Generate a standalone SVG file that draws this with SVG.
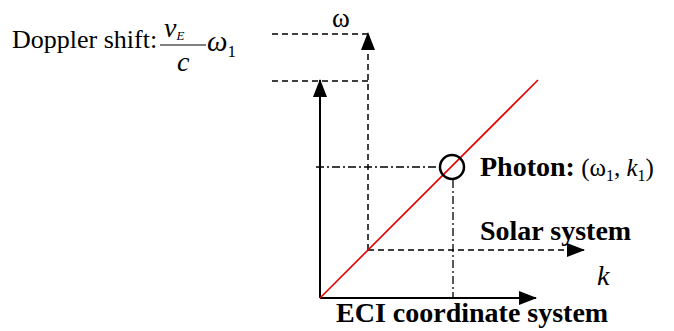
<svg xmlns="http://www.w3.org/2000/svg" width="674" height="331" viewBox="0 0 674 331">
<style>
text{font-family:"Liberation Serif","Times New Roman",serif;fill:#000}
.b{font-weight:bold;font-size:28px}
.ax{stroke:#000;stroke-width:2;fill:none}
.dash{stroke:#000;stroke-width:1.5;fill:none;stroke-dasharray:6 4}
.dd{stroke:#000;stroke-width:1.3;fill:none;stroke-dasharray:8 3 2 3}
</style>
<defs>
<marker id="ah" markerUnits="userSpaceOnUse" markerWidth="18" markerHeight="14" refX="17" refY="7" orient="auto">
<path d="M0,0 L18,7 L0,14 Z" fill="#000"/>
</marker>
</defs>
<g id="connectors">
<line class="ax" x1="320" y1="298" x2="320" y2="80" marker-end="url(#ah)"/>
<line class="ax" x1="320" y1="298" x2="536" y2="298" marker-end="url(#ah)"/>
<line class="dash" x1="368" y1="250" x2="368" y2="33" marker-end="url(#ah)"/>
<line class="dash" x1="368" y1="250" x2="584" y2="250" marker-end="url(#ah)"/>
<line class="dash" x1="272" y1="34" x2="368" y2="34"/>
<line class="dash" x1="272" y1="81" x2="368" y2="81"/>
<line x1="320" y1="298" x2="538" y2="80" stroke="#e00000" stroke-width="1.6"/>
<line class="dd" x1="316" y1="167" x2="440" y2="167"/>
<line class="dd" x1="453" y1="180" x2="453" y2="298"/>
</g>
<g id="photon">
<circle cx="452" cy="167" r="12" fill="none" stroke="#000" stroke-width="2.5"/>
<text x="480" y="176" font-size="25"><tspan class="b">Photon:</tspan> (ω<tspan font-size="16" dy="5">1</tspan><tspan dy="-5">, </tspan><tspan font-style="italic">k</tspan><tspan font-size="16" dy="5">1</tspan><tspan dy="-5">)</tspan></text>
</g>
<g id="omega-label"><text x="332" y="27" font-size="27">ω</text></g>
<g id="doppler">
<text x="12" y="48" font-size="26">Doppler shift:</text>
<text x="164" y="37" font-size="28" font-style="italic">v<tspan font-size="13" dy="3">E</tspan></text>
<line x1="160" y1="45" x2="206" y2="45" stroke="#000" stroke-width="1"/>
<text x="177" y="71" font-size="28" font-style="italic">c</text>
<text x="207" y="51" font-size="29" font-style="italic">ω<tspan font-size="17" font-style="normal" dy="6">1</tspan></text>
</g>
<g id="solar"><text class="b" x="480" y="240">Solar system</text></g>
<g id="k-label"><text x="597" y="285" font-size="28" font-style="italic">k</text></g>
<g id="eci"><text class="b" x="336" y="322">ECI coordinate system</text></g>
</svg>
